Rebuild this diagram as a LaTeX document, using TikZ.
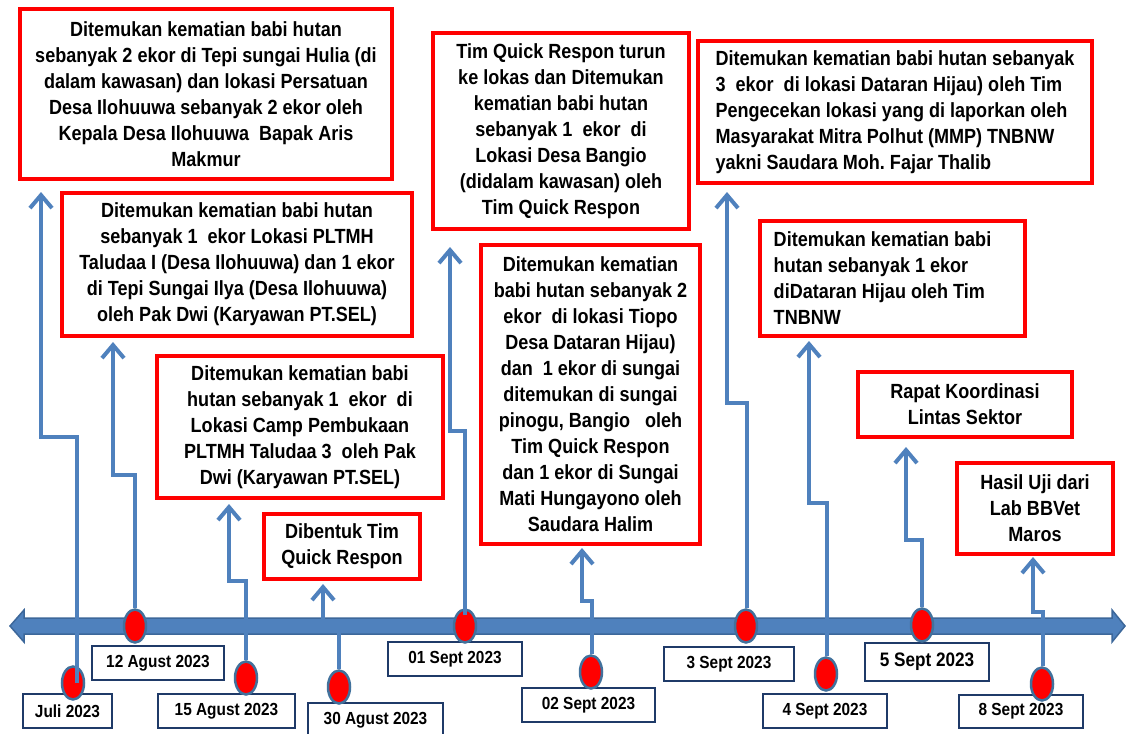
\documentclass[tikz,border=0pt]{standalone}
\usepackage{fontspec}
\setmainfont{Liberation Sans}[FakeStretch=0.88]
\usetikzlibrary{arrows.meta,shapes.geometric}
\definecolor{evred}{HTML}{FF0000}
\definecolor{navyb}{HTML}{1F3A68}
\definecolor{lineblue}{HTML}{4F81BD}
\definecolor{barfill}{HTML}{4F81BD}
\definecolor{baredge}{HTML}{3C679A}
\definecolor{dotedge}{HTML}{41719C}
\frenchspacing
\tikzset{
  evbox/.style={draw=evred, line width=4pt, fill=white, inner sep=0pt, align=center,
    font=\bfseries\fontsize{20.5}{26}\selectfont},
  datebox/.style={draw=navyb, line width=1.5pt, fill=white, inner sep=0pt,
    font=\bfseries\fontsize{17.5}{20}\selectfont},
  evdot/.style={ellipse, draw=dotedge, line width=2.5pt, fill=red, minimum width=22pt, minimum height=33pt, inner sep=0pt},
  conn/.style={draw=lineblue, line width=4pt, line join=miter, -{Straight Barb[length=13pt,width=22pt]}},
}
\begin{document}
\begin{tikzpicture}[x=1pt,y=-1pt]
\useasboundingbox (0,0) rectangle (1126,733);
\fill[white] (0,0) rectangle (1126,733);

% timeline bar
\filldraw[fill=barfill, draw=baredge, line width=1.5pt]
  (10,626) -- (24,610) -- (24,618) -- (1112,618) -- (1112,610) -- (1125,626)
  -- (1112,642) -- (1112,634) -- (24,634) -- (24,642) -- cycle;

% event boxes
\node[evbox, minimum width=372pt, minimum height=170pt] (bA) at (206,94)
  {Ditemukan kematian babi hutan\\ sebanyak 2 ekor di Tepi sungai Hulia (di\\ dalam kawasan) dan lokasi Persatuan\\ Desa Ilohuuwa sebanyak 2 ekor oleh\\ Kepala Desa Ilohuuwa~ Bapak Aris\\ Makmur};
\node[evbox, minimum width=350pt, minimum height=143pt] (bB) at (237,264.5)
  {Ditemukan kematian babi hutan\\ sebanyak 1~ ekor Lokasi PLTMH\\ Taludaa I (Desa Ilohuuwa) dan 1 ekor\\ di Tepi Sungai Ilya (Desa Ilohuuwa)\\ oleh Pak Dwi (Karyawan PT.SEL)};
\node[evbox, minimum width=286pt, minimum height=142pt] (bC) at (300,427)
  {Ditemukan kematian babi\\ hutan sebanyak 1~ ekor~ di\\ Lokasi Camp Pembukaan\\ PLTMH Taludaa 3~ oleh Pak\\ Dwi (Karyawan PT.SEL)};
\node[evbox, minimum width=156pt, minimum height=65pt] (bD) at (342,546.5)
  {Dibentuk Tim\\ Quick Respon};
\node[evbox, minimum width=256pt, minimum height=196pt] (bE) at (561,131)
  {Tim Quick Respon turun\\ ke lokas dan Ditemukan\\ kematian babi hutan\\ sebanyak 1~ ekor~ di\\ Lokasi Desa Bangio\\ (didalam kawasan) oleh\\ Tim Quick Respon};
\node[evbox, minimum width=219pt, minimum height=299pt] (bF) at (590.5,394.5)
  {Ditemukan kematian\\ babi hutan sebanyak 2\\ ekor~ di lokasi Tiopo\\ Desa Dataran Hijau)\\ dan~ 1 ekor di sungai\\ ditemukan di sungai\\ pinogu, Bangio~~ oleh\\ Tim Quick Respon\\ dan 1 ekor di Sungai\\ Mati Hungayono oleh\\ Saudara Halim};
\node[evbox, align=left, minimum width=394pt, minimum height=142pt] (bG) at (895,112)
  {Ditemukan kematian babi hutan sebanyak\\ 3~ ekor~ di lokasi Dataran Hijau) oleh Tim\\ Pengecekan lokasi yang di laporkan oleh\\ Masyarakat Mitra Polhut (MMP) TNBNW\\ yakni Saudara Moh. Fajar Thalib};
\node[evbox, align=left, minimum width=265pt, minimum height=115pt] (bH) at (892.5,278.5)
  {Ditemukan kematian babi\hspace*{20pt}\\ hutan sebanyak 1 ekor\\ diDataran Hijau oleh Tim\\ TNBNW};
\node[evbox, minimum width=214pt, minimum height=65pt] (bI) at (965,404.5)
  {Rapat Koordinasi\\ Lintas Sektor};
\node[evbox, minimum width=156pt, minimum height=91pt] (bJ) at (1035,508.5)
  {Hasil Uji dari\\ Lab BBVet\\ Maros};

% arrow tip coordinates
\coordinate (tJuli) at (41,192);
\coordinate (t12) at (113,342);
\coordinate (t15) at (229,504);
\coordinate (t30) at (323,584);
\coordinate (t01) at (450,247);
\coordinate (t02) at (582,548);
\coordinate (t3) at (727,192);
\coordinate (t4) at (809,341);
\coordinate (t5) at (906,447);
\coordinate (t8) at (1033,557);

% date boxes
\node[datebox, minimum width=89pt, minimum height=34pt] (lJuli) at (67.5,711) {Juli 2023};
\node[datebox, minimum width=132pt, minimum height=34pt] (l12) at (158,663) {12 Agust 2023};
\node[datebox, minimum width=137pt, minimum height=34pt] (l15) at (226.5,711) {15 Agust 2023};
\node[datebox, minimum width=135pt, minimum height=34pt] (l30) at (375.5,720) {30 Agust 2023};
\node[datebox, minimum width=134pt, minimum height=34pt] (l01) at (455,659) {01 Sept 2023};
\node[datebox, minimum width=133pt, minimum height=34pt] (l02) at (588.5,705) {02 Sept 2023};
\node[datebox, minimum width=130pt, minimum height=34pt] (l3) at (729,664) {3 Sept 2023};
\node[datebox, minimum width=124pt, minimum height=34pt] (l4) at (825,711) {4 Sept 2023};
\node[datebox, minimum width=124pt, minimum height=38pt, font=\bfseries\fontsize{19.5}{22}\selectfont] (l5) at (927,662) {5 Sept 2023};
\node[datebox, minimum width=124pt, minimum height=33pt] (l8) at (1021,711.5) {8 Sept 2023};

% dots
\node[evdot] (dJuli) at (73,683) {};
\node[evdot] (d12) at (135,626) {};
\node[evdot] (d15) at (246,678) {};
\node[evdot] (d30) at (339,687) {};
\node[evdot] (d01) at (465,626) {};
\node[evdot] (d02) at (591,672) {};
\node[evdot] (d3) at (746,626) {};
\node[evdot] (d4) at (826,674) {};
\node[evdot] (d5) at (922,625) {};
\node[evdot] (d8) at (1042,684) {};

% connectors from dots to arrow tips
\draw[conn] (d12.north) |- (t12 |- 0,475) -- (t12);
\draw[conn] (d15.north) |- (t15 |- 0,581) -- (t15);
\draw[conn] (d30.north) |- (t30 |- 0,626) -- (t30);
\draw[conn] (d02.north) ++(1,0) |- (t02 |- 0,601) -- (t02);
\draw[conn] (d3.north) ++(1,0) |- (t3 |- 0,403) -- (t3);
\draw[conn] (d4.north) ++(1,0) |- (t4 |- 0,503) -- (t4);
\draw[conn] (d5.north) |- (t5 |- 0,540) -- (t5);
\draw[conn] (d8.north) ++(1,0) |- (t8 |- 0,612) -- (t8);
\draw[conn] (dJuli.center) ++(4,0) |- (tJuli |- 0,437) -- (tJuli);
\draw[conn] (d01.center) ++(0,-11) |- (t01 |- 0,431) -- (t01);
\end{tikzpicture}
\end{document}
